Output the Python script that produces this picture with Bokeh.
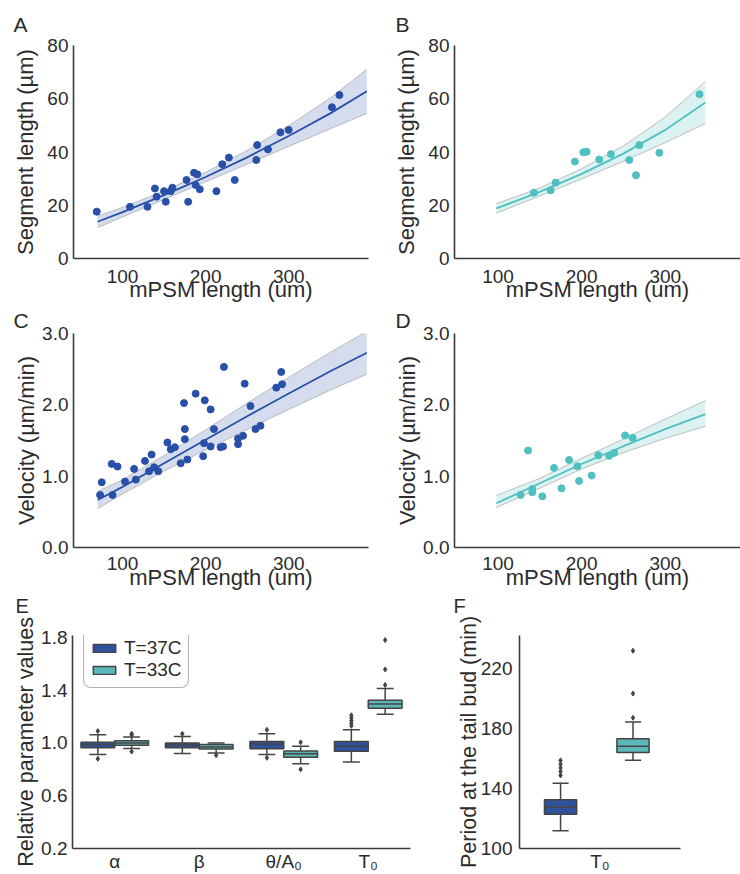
from bokeh.plotting import figure
from bokeh.layouts import row, column
from bokeh.models import Range1d, FixedTicker, Legend, LegendItem, PrintfTickFormatter, Label
from bokeh.embed import file_html
from bokeh.resources import INLINE

FONT = "Liberation Sans"
TXT = "#2b2b2b"
AX = "#3a3a3a"
BLUE = "#2950a8"
TEAL = "#4ec0c0"
BOX37 = "#30529c"
BOX33 = "#5cb8b8"
EDGE = "#444444"

# ---------------- Panel A: segment length vs mPSM length, 37C ----------------
a_x = [69, 109, 130, 139, 141, 150, 152, 158, 160, 177, 179, 186, 190, 188, 193,
       213, 220, 228, 235, 261, 262, 275, 290, 300, 352, 361]
a_y = [17.6, 19.4, 19.4, 26.3, 23.2, 25.3, 21.3, 25.3, 26.6, 29.5, 21.3, 32.2, 31.6,
       27.6, 26.0, 25.3, 35.4, 37.9, 29.5, 37.0, 42.6, 41.0, 47.4, 48.3, 56.8, 61.4]
a_fit_x = [70, 100, 150, 200, 250, 300, 350, 394]
a_fit_y = [13.8, 17.4, 23.8, 30.6, 38.0, 46.0, 54.5, 62.8]
a_lo = [11.6, 15.6, 22.2, 28.8, 35.4, 42.1, 48.7, 54.5]
a_hi = [16.0, 19.2, 25.4, 32.4, 40.6, 49.9, 60.3, 71.1]

# ---------------- Panel B: segment length vs mPSM length, 33C ----------------
b_x = [143, 163, 169, 192, 202, 206, 221, 235, 257, 265, 269, 293, 341]
b_y = [24.7, 25.6, 28.5, 36.4, 39.9, 40.1, 37.2, 39.2, 37.0, 31.3, 42.6, 39.7, 61.7]
b_fit_x = [98, 150, 200, 250, 300, 348]
b_fit_y = [18.8, 25.0, 31.8, 39.4, 48.3, 58.6]
b_lo = [17.0, 23.5, 29.9, 36.5, 43.5, 50.7]
b_hi = [20.6, 26.5, 33.7, 42.3, 53.1, 66.5]

# ---------------- Panel C: velocity vs mPSM length, 37C ----------------
c_x = [73, 75, 88, 87, 94, 103, 114, 116, 127, 132, 135, 138, 143, 154, 158, 163, 170,
       174, 175, 175, 178, 188, 197, 198, 199, 206, 206, 210, 218, 221, 222, 239, 239,
       245, 247, 254, 260, 266, 285, 291, 292]
c_y = [0.736, 0.914, 0.736, 1.172, 1.135, 0.924, 1.102, 0.952, 1.214, 1.069, 1.303,
       1.125, 1.069, 1.472, 1.378, 1.406, 1.181, 2.025, 1.66, 1.519, 1.233, 2.157, 1.28,
       1.463, 2.063, 1.416, 1.936, 1.66, 1.406, 1.416, 2.532, 1.449, 1.528, 1.566, 2.297,
       1.983, 1.66, 1.707, 2.241, 2.461, 2.288]
c_fit_x = [70, 100, 150, 200, 250, 300, 350, 394]
c_fit_y = [0.666, 0.85, 1.18, 1.51, 1.84, 2.16, 2.47, 2.73]
c_lo = [0.546, 0.75, 1.07, 1.37, 1.655, 1.935, 2.205, 2.43]
c_hi = [0.786, 0.95, 1.29, 1.65, 2.025, 2.385, 2.735, 3.03]

# ---------------- Panel D: velocity vs mPSM length, 33C ----------------
d_x = [127, 136, 141, 141, 153, 167, 176, 185, 195, 197, 212, 220, 233, 239, 252, 261]
d_y = [0.736, 1.36, 0.82, 0.774, 0.717, 1.116, 0.83, 1.228, 1.139, 0.933, 1.008,
       1.294, 1.285, 1.327, 1.571, 1.538]
d_fit_x = [98, 150, 200, 250, 300, 348]
d_fit_y = [0.62, 0.90, 1.17, 1.42, 1.66, 1.87]
d_lo = [0.56, 0.83, 1.10, 1.33, 1.53, 1.70]
d_hi = [0.73, 0.97, 1.25, 1.52, 1.80, 2.06]

# ---------------- Panel E: relative parameter values ----------------
params = ["α", "β", "θ/A₀", "T₀"]
e37_q1 = [0.963, 0.963, 0.957, 0.937]
e37_med = [0.988, 0.982, 0.993, 0.975]
e37_q3 = [1.005, 1.000, 1.012, 1.012]
e37_lo = [0.913, 0.920, 0.912, 0.855]
e37_hi = [1.063, 1.050, 1.070, 1.100]
e37_out = [[0.88, 1.09], [1.07], [0.888, 1.10], [1.13, 1.15, 1.17, 1.19, 1.21]]
e33_q1 = [0.982, 0.955, 0.892, 1.263]
e33_med = [1.000, 0.970, 0.918, 1.295]
e33_q3 = [1.017, 0.988, 0.940, 1.325]
e33_lo = [0.958, 0.925, 0.843, 1.218]
e33_hi = [1.045, 1.000, 0.975, 1.413]
e33_out = [[0.935, 1.06, 1.07], [0.907], [0.80, 1.005], [1.44, 1.558, 1.78]]
legend_labels = ["T=37C", "T=33C"]

# ---------------- Panel F: period at the tail bud ----------------
f_labels = ["T₀"]
f37 = dict(q1=122.7, med=127.2, q3=132.2, lo=111.7, hi=143.3,
           out=[148.5, 151.0, 153.5, 156.0, 158.5])
f33 = dict(q1=163.7, med=168.0, q3=172.9, lo=158.6, hi=184.0,
           out=[186.9, 203.0, 231.5])

panel_letters = ["A", "B", "C", "D", "E", "F"]


def make_fig(w, h, xr, yr, bl, br, bt, bb, letter=None, loff=0, lstd=0):
    p = figure(width=w, height=h, x_range=Range1d(*xr), y_range=Range1d(*yr),
               output_backend="svg", toolbar_location=None,
               min_border_left=bl, min_border_right=br,
               min_border_top=bt, min_border_bottom=bb)
    p.outline_line_color = None
    p.background_fill_color = "white"
    p.border_fill_color = "white"
    p.xgrid.visible = False
    p.ygrid.visible = False
    if letter is None:
        p.title.visible = False
    else:
        p.title.text = letter
        p.title.align = "left"
        p.title.offset = loff
        p.title.standoff = lstd
        p.title.text_font = FONT
        p.title.text_font_size = "21px"
        p.title.text_font_style = "normal"
        p.title.text_color = TXT
    for ax in (p.xaxis[0], p.yaxis[0]):
        ax.axis_line_color = AX
        ax.axis_line_width = 1.6
        ax.major_tick_line_color = None
        ax.minor_tick_line_color = None
        ax.major_tick_out = 0
        ax.major_tick_in = 0
        ax.minor_tick_out = 0
        ax.minor_tick_in = 0
        ax.major_label_text_font = FONT
        ax.major_label_text_font_size = "19px"
        ax.major_label_text_color = TXT
        ax.axis_label_text_font = FONT
        ax.axis_label_text_font_size = "22px"
        ax.axis_label_text_font_style = "normal"
        ax.axis_label_text_color = TXT
    return p


def scatter_panel(w, h, xr, yr, bl, br, bt, bb, xs, ys, fx, fy, lo, hi, color,
                  yticks, ylabel, yfmt, lab, loff, lstd, ylstd, xstd, xlstd):
    p = make_fig(w, h, xr, yr, bl, br, bt, bb, lab, loff, lstd)
    p.varea(x=fx, y1=lo, y2=hi, fill_color=color, fill_alpha=0.2)
    p.line(fx, lo, line_color="#9a9a9a", line_alpha=0.6, line_width=1)
    p.line(fx, hi, line_color="#9a9a9a", line_alpha=0.6, line_width=1)
    p.line(fx, fy, line_color=color, line_width=1.8)
    p.scatter(xs, ys, size=7, fill_color=color, line_color=color)
    p.xaxis.ticker = FixedTicker(ticks=[100, 200, 300])
    p.yaxis.ticker = FixedTicker(ticks=yticks)
    if yfmt:
        p.yaxis.formatter = PrintfTickFormatter(format=yfmt)
    p.xaxis.axis_label = "mPSM length (um)"
    p.yaxis.axis_label = ylabel
    p.xaxis.major_label_standoff = xstd
    p.yaxis.major_label_standoff = 5
    p.yaxis.axis_label_standoff = ylstd
    p.xaxis.axis_label_standoff = xlstd
    return p


pA = scatter_panel(370, 305, (41, 396), (0, 80), 73, 2, 45, 47, a_x, a_y,
                   a_fit_x, a_fit_y, a_lo, a_hi, BLUE, [0, 20, 40, 60, 80],
                   "Segment length (µm)", None, panel_letters[0], -60, 20, 6, 11, -9)
pB = scatter_panel(370, 305, (48, 390), (0, 80), 84, 0, 45, 47, b_x, b_y,
                   b_fit_x, b_fit_y, b_lo, b_hi, TEAL, [0, 20, 40, 60, 80],
                   "Segment length (µm)", None, panel_letters[1], -59, 20, 6, 11, -9)
pC = scatter_panel(370, 289, (41, 396), (0, 3), 73, 2, 28, 47, c_x, c_y,
                   c_fit_x, c_fit_y, c_lo, c_hi, BLUE, [0, 1, 2, 3],
                   "Velocity (µm/min)", "%.1f", panel_letters[2], -60, 3, 0, 9, -8)
pD = scatter_panel(370, 289, (48, 390), (0, 3), 84, 0, 28, 47, d_x, d_y,
                   d_fit_x, d_fit_y, d_lo, d_hi, TEAL, [0, 1, 2, 3],
                   "Velocity (µm/min)", "%.1f", panel_letters[3], -59, 3, 0, 9, -8)


def draw_boxes(p, centers, width, q1, med, q3, lo, hi, outs, fill):
    half = width / 2.0
    cap = width / 4.0
    left = [c - half for c in centers]
    right = [c + half for c in centers]
    p.segment(x0=centers, y0=q3, x1=centers, y1=hi, line_color=EDGE, line_width=1.5)
    p.segment(x0=centers, y0=q1, x1=centers, y1=lo, line_color=EDGE, line_width=1.5)
    p.segment(x0=[c - cap for c in centers], y0=hi, x1=[c + cap for c in centers], y1=hi,
              line_color=EDGE, line_width=1.5)
    p.segment(x0=[c - cap for c in centers], y0=lo, x1=[c + cap for c in centers], y1=lo,
              line_color=EDGE, line_width=1.5)
    r = p.quad(left=left, right=right, bottom=q1, top=q3, fill_color=fill,
               line_color=EDGE, line_width=1.5)
    p.segment(x0=left, y0=med, x1=right, y1=med, line_color=EDGE, line_width=1.5)
    ox, oy = [], []
    for c, vals in zip(centers, outs):
        for v in vals:
            ox.append(c)
            oy.append(v)
    p.scatter(ox, oy, marker="diamond", size=5, fill_color=EDGE, line_color=EDGE)
    return r


# strip carrying the letters of panels E and F
strip = figure(width=740, height=23, x_range=Range1d(0, 740), y_range=Range1d(0, 23),
               output_backend="svg", toolbar_location=None, min_border=0)
strip.axis.visible = False
strip.grid.visible = False
strip.outline_line_color = None
strip.title.visible = False
for txt, sx in ((panel_letters[4], 15), (panel_letters[5], 453)):
    strip.add_layout(Label(x=sx, y=23, text=txt, text_font=FONT, text_font_size="20px",
                           text_color=TXT, text_align="left", text_baseline="top"))

# Panel E
pE = make_fig(430, 257, (-0.5, 3.5), (0.2, 1.815), 72, 20, 18, 25)
idx = list(range(len(params)))
r37 = draw_boxes(pE, [i - 0.2 for i in idx], 0.4, e37_q1, e37_med, e37_q3, e37_lo, e37_hi,
                 e37_out, BOX37)
r33 = draw_boxes(pE, [i + 0.2 for i in idx], 0.4, e33_q1, e33_med, e33_q3, e33_lo, e33_hi,
                 e33_out, BOX33)
pE.xaxis.ticker = FixedTicker(ticks=idx)
pE.xaxis.major_label_overrides = {i: params[i] for i in idx}
pE.yaxis.ticker = FixedTicker(ticks=[0.2, 0.6, 1.0, 1.4, 1.8])
pE.yaxis.formatter = PrintfTickFormatter(format="%.1f")
pE.yaxis.axis_label = "Relative parameter values"
pE.yaxis.axis_label_text_font_size = "21.5px"
pE.yaxis.major_label_standoff = 5
pE.xaxis.major_label_standoff = 2
pE.yaxis.axis_label_standoff = 0
leg = Legend(items=[LegendItem(label=legend_labels[0], renderers=[r37]),
                    LegendItem(label=legend_labels[1], renderers=[r33])],
             location=(11, 160), margin=0, padding=6, spacing=-2,
             glyph_width=28, glyph_height=10, label_height=18, label_standoff=6,
             label_text_font=FONT, label_text_font_size="19px", label_text_color=TXT,
             label_text_line_height=1.0,
             border_line_color="#666666", border_line_width=1,
             background_fill_color="white", background_fill_alpha=1)
try:
    leg.border_radius = 8
except Exception:
    pass
pE.add_layout(leg)

# Panel F
pF = make_fig(310, 257, (-0.5, 0.5), (99.8, 241.7), 89, 60, 18, 25)
draw_boxes(pF, [-0.245], 0.2, [f37["q1"]], [f37["med"]], [f37["q3"]], [f37["lo"]],
           [f37["hi"]], [f37["out"]], BOX37)
draw_boxes(pF, [0.205], 0.2, [f33["q1"]], [f33["med"]], [f33["q3"]], [f33["lo"]],
           [f33["hi"]], [f33["out"]], BOX33)
pF.xaxis.ticker = FixedTicker(ticks=[0])
pF.xaxis.major_label_overrides = {0: f_labels[0]}
pF.yaxis.ticker = FixedTicker(ticks=[100, 140, 180, 220])
pF.yaxis.axis_label = "Period at the tail bud (min)"
pF.yaxis.axis_label_text_font_size = "21.5px"
pF.yaxis.major_label_standoff = 7
pF.xaxis.major_label_standoff = 2
pF.yaxis.axis_label_standoff = -3

layout = column(row(pA, pB), row(pC, pD), strip, row(pE, pF))
open("out.html", "w").write(file_html(layout, INLINE))
